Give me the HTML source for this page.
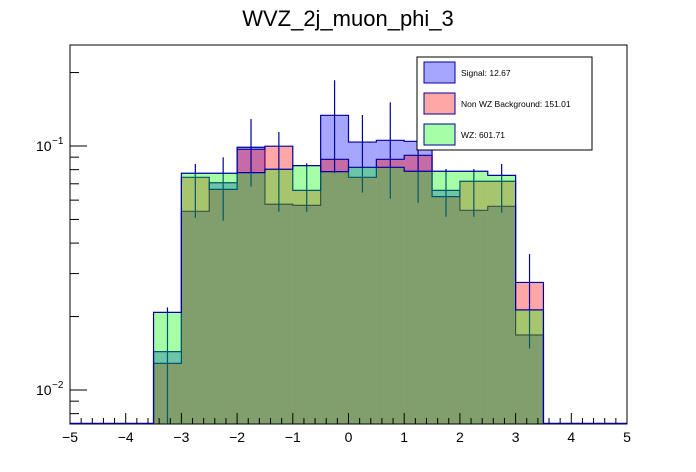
<!DOCTYPE html>
<html><head><meta charset="utf-8"><style>
html,body{margin:0;padding:0;background:#fff;}
svg{display:block;font-family:"Liberation Sans",sans-serif;}
</style></head><body>
<svg id="c" width="696" height="472">
<text x="348" y="26" text-anchor="middle" font-size="22">WVZ_2j_muon_phi_3</text>
</svg>
<script>
const binEdgesStart = -3.5, binWidth = 0.5;
const signal = [0.01436,0.0540,0.0707,0.0988,0.0577,0.0571,0.1336,0.1038,0.1055,0.1045,0.0658,0.0545,0.0566,0.0168];
const nonWZ  = [0.01286,0.0744,0.0664,0.0969,0.0998,0.0658,0.0882,0.0744,0.0882,0.0916,0.0620,0.0717,0.0717,0.0276];
const wz     = [0.0208,0.0773,0.0773,0.0778,0.0803,0.0831,0.0785,0.0818,0.0818,0.0788,0.0788,0.0788,0.0758,0.0213];
const errHi  = [0.0218,0.0844,0.0899,0.129,0.1141,0.0849,0.186,0.134,0.151,0.109,0.0805,0.0805,0.0844,0.0361];
const errLo  = [0.001,0.0508,0.0494,0.0681,0.0538,0.0538,0.0773,0.0644,0.0608,0.0586,0.0513,0.0513,0.0533,0.0148];
const xTicks = [-5,-4,-3,-2,-1,0,1,2,3,4,5];
const legendLabels = ["Signal: 12.67","Non WZ Background: 151.01","WZ: 601.71"];

const L=70,R=627,T=45,B=424;
const X=v=>L+(v+5)/10*(R-L);
const Y=v=>{let y=146-(Math.log10(v)+1)*244;return Math.min(B,Math.max(T,y));};
const svg=document.getElementById('c');
const NS='http://www.w3.org/2000/svg';
function mk(tag,attrs,parent){const e=document.createElementNS(NS,tag);for(const k in attrs)e.setAttribute(k,attrs[k]);(parent||svg).appendChild(e);return e;}

const series=[
 {d:signal,fill:'rgba(0,0,255,0.35)',stroke:'#0000a0',name:'signal'},
 {d:nonWZ,fill:'rgba(255,0,0,0.35)',stroke:'#0000a0',name:'non-wz'},
 {d:wz,fill:'rgba(0,255,0,0.35)',stroke:'#0000a0',name:'wz'}
];
series.forEach((s,si)=>{
 if(si===2){
  errHi.forEach((h,i)=>{
   const xc=X(binEdgesStart+(i+0.5)*binWidth);
   const e=mk('line',{x1:xc,x2:xc,y1:Y(h),y2:Y(errLo[i]),stroke:'#0000a0','stroke-width':1.2});
   
   
  });
 }
 const g=mk('g',{});
 
 
 s.d.forEach((v,i)=>{
  const x0=X(binEdgesStart+i*binWidth),x1=X(binEdgesStart+(i+1)*binWidth);
  const r=mk('rect',{x:x0,y:Y(v),width:x1-x0,height:B-Y(v),fill:s.fill},g);
  
  
 });
 let p='M'+X(binEdgesStart)+','+B;
 s.d.forEach((v,i)=>{p+=' L'+X(binEdgesStart+i*binWidth)+','+Y(v)+' L'+X(binEdgesStart+(i+1)*binWidth)+','+Y(v);});
 p+=' L'+X(binEdgesStart+s.d.length*binWidth)+','+B;
 mk('path',{d:p,fill:'none',stroke:s.stroke,'stroke-width':1.2},g);
});
// frame
let fr=mk('rect',{x:L,y:T,width:R-L,height:B-T,fill:'none',stroke:'#000','stroke-width':1});


// empty bins baseline
mk('line',{x1:L,x2:X(binEdgesStart),y1:B-0.5,y2:B-0.5,stroke:'#0000a0','stroke-width':1.5});
mk('line',{x1:X(3.5),x2:R,y1:B-0.5,y2:B-0.5,stroke:'#0000a0','stroke-width':1.5});
// x axis ticks
for(let v=-5;v<=5.001;v+=0.2){const x=X(v);const maj=Math.abs(v-Math.round(v))<1e-6;mk('line',{x1:x,x2:x,y1:B,y2:B-(maj?11:6),stroke:'#000'});}
xTicks.forEach(v=>{const t=mk('text',{x:X(v),y:442,'text-anchor':'middle','font-size':14});t.textContent=(v<0?'\u2212'+(-v):v);
 
 });
// y axis ticks
[0.008,0.009,0.02,0.03,0.04,0.05,0.06,0.07,0.08,0.09,0.2].forEach(v=>{const y=Y(v);mk('line',{x1:L,x2:L+9,y1:y,y2:y,stroke:'#000'});});
[[0.1,'1'],[0.01,'2']].forEach(([v,e])=>{const y=Y(v);mk('line',{x1:L,x2:L+17,y1:y,y2:y,stroke:'#000'});
 const t=mk('text',{x:36,y:y+5,'font-size':14});t.textContent='10';
 
 
 const s=mk('text',{x:52,y:y-2,'font-size':10});s.textContent='\u2212'+e;});
// legend
const lg=mk('g',{});


mk('rect',{x:417,y:57,width:175,height:93,fill:'#fff',stroke:'#000'},lg);
const lf=['rgba(0,0,255,0.35)','rgba(255,0,0,0.35)','rgba(0,255,0,0.35)'];
legendLabels.forEach((lab,i)=>{const y=62+i*31;
 const sw=mk('rect',{x:424,y:y,width:31,height:21,fill:lf[i],stroke:'#0000a0'},lg);
 
 
 const t=mk('text',{x:461,y:y+14,'font-size':8.5},lg);t.textContent=lab;
 
 });
</script>
</body></html>
